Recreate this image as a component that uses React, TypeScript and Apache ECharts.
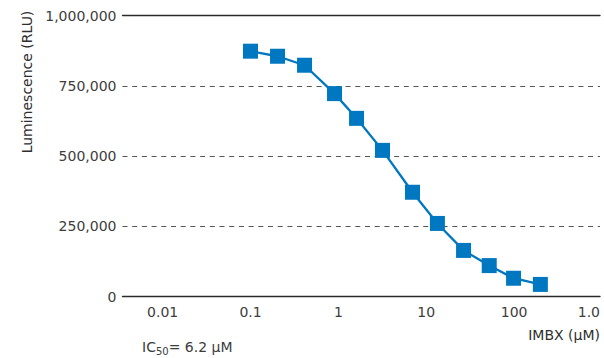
import React, { useEffect, useRef } from "react";
import * as echarts from "echarts";

// IMBX concentration (µM) and luminescence (RLU)
const concentrations = [0.1, 0.203, 0.412, 0.904, 1.61, 3.18, 6.98, 13.4, 26.6, 52.1, 98.6, 199];
const luminescence = [873000, 855000, 823000, 722000, 634000, 520000, 371000, 260000, 164000, 110000, 65000, 43000];
const xTickLabels: Record<string, string> = {
  "0.01": "0.01",
  "0.1": "0.1",
  "1": "1",
  "10": "10",
  "100": "100",
};
const maxTickLabel = "1.0";
const yTicks = [0, 250000, 500000, 750000, 1000000];

const FONT = "DejaVu Sans";
const TEXT = "#3d3d3d";

export default function App() {
  const ref = useRef<HTMLDivElement>(null);
  useEffect(() => {
    document.body.style.margin = "0";
    if (!ref.current) return;
    const chart = echarts.init(ref.current, undefined, { renderer: "svg" });
    const xMin = 0.00349;
    const xMax = 950;
    chart.setOption({
      animation: false,
      grid: { left: 122.5, right: 4, top: 15.5, bottom: 61.5, containLabel: false },
      xAxis: [
        {
          type: "log",
          logBase: 10,
          min: xMin,
          max: xMax,
          axisLine: { show: true, lineStyle: { color: "#2a2a2a", width: 1.4 } },
          axisTick: { show: false },
          splitLine: { show: false },
          axisLabel: {
            margin: 8,
            color: TEXT,
            fontFamily: FONT,
            fontSize: 14,
            alignMaxLabel: "right",
            showMinLabel: false,
            formatter: (v: number) => {
              if (v >= 900) return maxTickLabel;
              const k = String(Number(v.toPrecision(3)));
              return xTickLabels[k] ?? "";
            },
          },
        },
        {
          type: "log",
          logBase: 10,
          min: xMin,
          max: xMax,
          position: "top",
          axisLine: { show: true, lineStyle: { color: "#2a2a2a", width: 1.4 } },
          axisTick: { show: false },
          axisLabel: { show: false },
          splitLine: { show: false },
        },
      ],
      yAxis: {
        type: "value",
        min: yTicks[0],
        max: yTicks[yTicks.length - 1],
        interval: yTicks[1] - yTicks[0],
        axisLine: { show: false },
        axisTick: { show: false },
        axisLabel: {
          margin: 6,
          color: TEXT,
          fontFamily: FONT,
          fontSize: 14,
          formatter: (v: number) => v.toLocaleString("en-US"),
        },
        splitLine: {
          show: true,
          lineStyle: { color: "#555", type: [5, 4.7], width: 1.1 },
        },
      },
      series: [
        {
          type: "line",
          data: concentrations.map((c, i) => [c, luminescence[i]]),
          symbol: "rect",
          symbolSize: 15,
          lineStyle: { color: "#0077C1", width: 2.3 },
          itemStyle: { color: "#0077C1" },
          z: 5,
        },
      ],
      graphic: [
        {
          type: "text",
          x: 27,
          y: 82,
          rotation: Math.PI / 2,
          style: {
            text: "Luminescence (RLU)",
            fontFamily: FONT,
            fontSize: 14,
            fill: "#2e2e2e",
            align: "center",
            verticalAlign: "middle",
          },
        },
        {
          type: "text",
          x: 600,
          y: 335,
          style: {
            text: "IMBX (µM)",
            fontFamily: FONT,
            fontSize: 14,
            fill: "#2e2e2e",
            align: "right",
            verticalAlign: "middle",
          },
        },
        {
          type: "text",
          x: 142,
          y: 347,
          style: {
            text: "{a|IC}{b|50}{a|= 6.2 µM}",
            verticalAlign: "middle",
            rich: {
              a: { fontFamily: FONT, fontSize: 14, fill: TEXT, lineHeight: 18 },
              b: { fontFamily: FONT, fontSize: 10, fill: TEXT, lineHeight: 18, padding: [9, 0, 0, 0] },
            },
          },
        },
      ],
    });
    return () => chart.dispose();
  }, []);
  return <div ref={ref} style={{ width: 604, height: 358 }} />;
}
